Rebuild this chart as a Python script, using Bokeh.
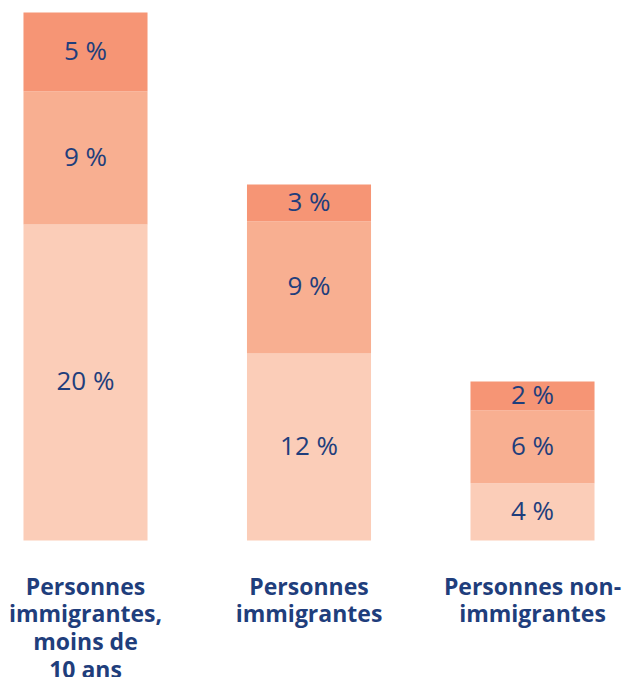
from bokeh.plotting import figure
from bokeh.models import ColumnDataSource, Range1d
from bokeh.core.properties import value
from bokeh.embed import file_html
from bokeh.resources import INLINE

# Data (segment heights; printed labels as shown)
categories = ["Personnes\nimmigrantes,\nmoins de\n10 ans",
              "Personnes\nimmigrantes",
              "Personnes non-\nimmigrantes"]
bottom_vals = [20.26, 11.99, 3.67]
middle_vals = [8.54, 8.48, 4.68]
top_vals = [5.04, 2.35, 1.84]
bottom_labels = ["20 %", "12 %", "4 %"]
middle_labels = ["9 %", "9 %", "6 %"]
top_labels = ["5 %", "3 %", "2 %"]

colors = ["#FBCDB8", "#F8AF91", "#F69575"]
text_color = "#1F3E7C"

xs = list(range(len(categories)))

p = figure(width=624, height=677, output_backend="svg", toolbar_location=None,
           x_range=Range1d(-0.3803, 2.4116), y_range=Range1d(-8.782, 34.615),
           x_axis_location=None, y_axis_location=None,
           min_border=0, outline_line_color=None)
p.grid.visible = False
p.background_fill_color = "white"

layers = [bottom_vals, middle_vals, top_vals]
labels = [bottom_labels, middle_labels, top_labels]
base = [0.0] * len(xs)
for vals, labs, col in zip(layers, labels, colors):
    tops = [b + v for b, v in zip(base, vals)]
    mids = [b + v / 2 for b, v in zip(base, vals)]
    src = ColumnDataSource(dict(x=xs, bottom=base, top=tops, mid=mids, lab=labs))
    p.vbar(x="x", bottom="bottom", top="top", width=0.555, source=src,
           fill_color=col, line_color=None)
    p.text(x="x", y="mid", text="lab", source=src, text_align="center",
           text_baseline="middle", text_font=value("Open Sans"),
           text_font_size="26px", text_color=text_color, y_offset=-2)
    base = tops

csrc = ColumnDataSource(dict(x=xs, y=[-1.89] * len(xs), t=categories))
p.text(x="x", y="y", text="t", source=csrc, text_align="center",
       text_baseline="top", text_font=value("Open Sans"), text_font_style="bold",
       text_font_size="23px", text_line_height=0.86, text_color=text_color)

open("out.html", "w").write(file_html(p, INLINE))
